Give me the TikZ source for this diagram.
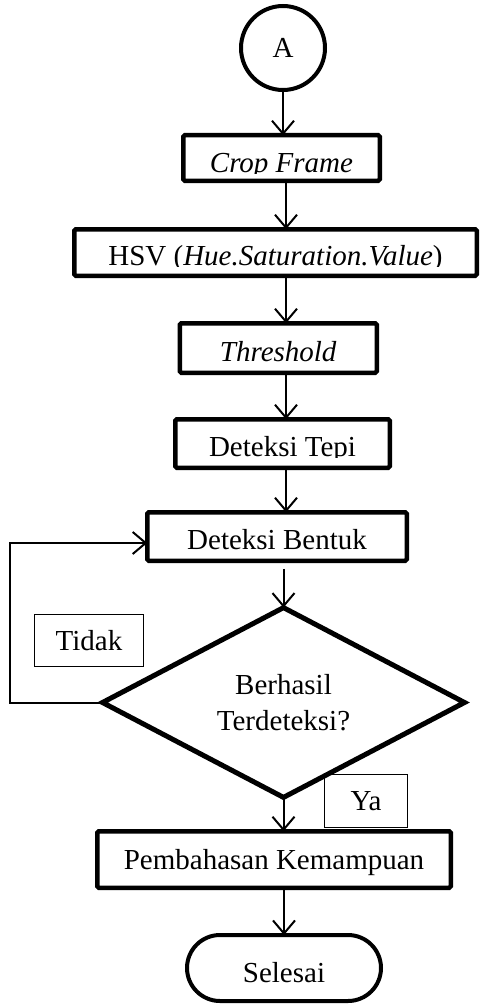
\documentclass[tikz,border=0pt]{standalone}
\usepackage{fontspec}
\setmainfont{Liberation Serif}
\usetikzlibrary{arrows.meta,shapes.geometric,shapes.misc}
\begin{document}
\begin{tikzpicture}[x=1pt,y=-1pt,
  font=\fontsize{29pt}{36pt}\selectfont,
  every node/.style={inner sep=0pt, outer sep=0pt},
  box/.style={draw, line width=4.5pt, rectangle, rounded corners=1.5pt},
  note/.style={draw, line width=1pt, rectangle, text depth=0pt},
  % text whose descenders are cut off at the baseline (#1 = baseline above the box bottom)
  cut/.style 2 args={path picture={
     \clip (path picture bounding box.north west)
           rectangle ([yshift=#1-1pt]path picture bounding box.south east);
     \node[anchor=base, path picture={}] at ([yshift=#1]path picture bounding box.south) {#2};}},
  arr/.style={line width=2pt, -{Straight Barb[length=13pt,width=22pt]}},
]
\useasboundingbox (0,0) rectangle (483,1006);

% start connector
\node[circle, draw, line width=4pt, minimum size=84pt] (a) at (283,48) {A};

% processing steps
\node[box, minimum width=196.5pt, minimum height=45.5pt,
      cut={8.75pt}{\textit{Crop Frame}}] (crop) at (281.5,158) {};
\node[box, minimum width=402.5pt, minimum height=46.5pt,
      cut={10.75pt}{HSV (\textit{Hue.Saturation.Value})}] (hsv) at (275.5,252.5) {};
\node[box, minimum width=197pt, minimum height=49.5pt,
      text height=26pt, text depth=0pt] (thr) at (278.25,348) {\textit{Threshold}};
\node[box, minimum width=214.5pt, minimum height=48.5pt,
      cut={11.75pt}{Deteksi Tepi}] (tepi) at (282.5,443.5) {};
\node[box, minimum width=259.5pt, minimum height=48.5pt,
      cut={11.75pt}{Deteksi Bentuk}] (bentuk) at (277,536.5) {};

% decision
\node[diamond, draw, line width=5pt, minimum width=362pt, minimum height=170pt,
      align=center] (dec) at (283.5,702.5) {Berhasil\\Terdeteksi?};

\node[box, minimum width=353.5pt, minimum height=56.5pt,
      text height=19pt, text depth=0pt] (pemb) at (274,859.5) {Pembahasan Kemampuan};

% end terminal
\node[rounded rectangle, draw, line width=4pt, minimum width=194pt, minimum height=66pt,
      text height=28pt, text depth=0pt] (sel) at (284,968) {Selesai};

% branch labels
\node[note, minimum width=109pt, minimum height=52pt, text height=19pt] (tidak) at (89,640.5) {Tidak};
\node[note, minimum width=83pt, minimum height=53pt, text height=18pt] (ya) at (366,801) {Ya};

% connectors
\coordinate (axis) at (286,0);
\draw[arr] (a.south) -- (a.south |- crop.north);
\draw[arr] (crop.south -| axis) -- (hsv.north -| axis);
\draw[arr] (hsv.south -| axis) -- (thr.north -| axis);
\draw[arr] (thr.south -| axis) -- (tepi.north -| axis);
\draw[arr] (tepi.south -| axis) -- (bentuk.north -| axis);
\draw[arr, shorten <=8pt] (bentuk.south -| dec.north) -- (dec.north);
\draw[arr] (dec.south) -- (dec.south |- pemb.north);
\draw[arr] (pemb.south -| sel.north) -- (sel.north);
\draw[arr] (dec.west) -- ++(-93,0) |- ([yshift=-6.5pt]bentuk.west);
\end{tikzpicture}
\end{document}
